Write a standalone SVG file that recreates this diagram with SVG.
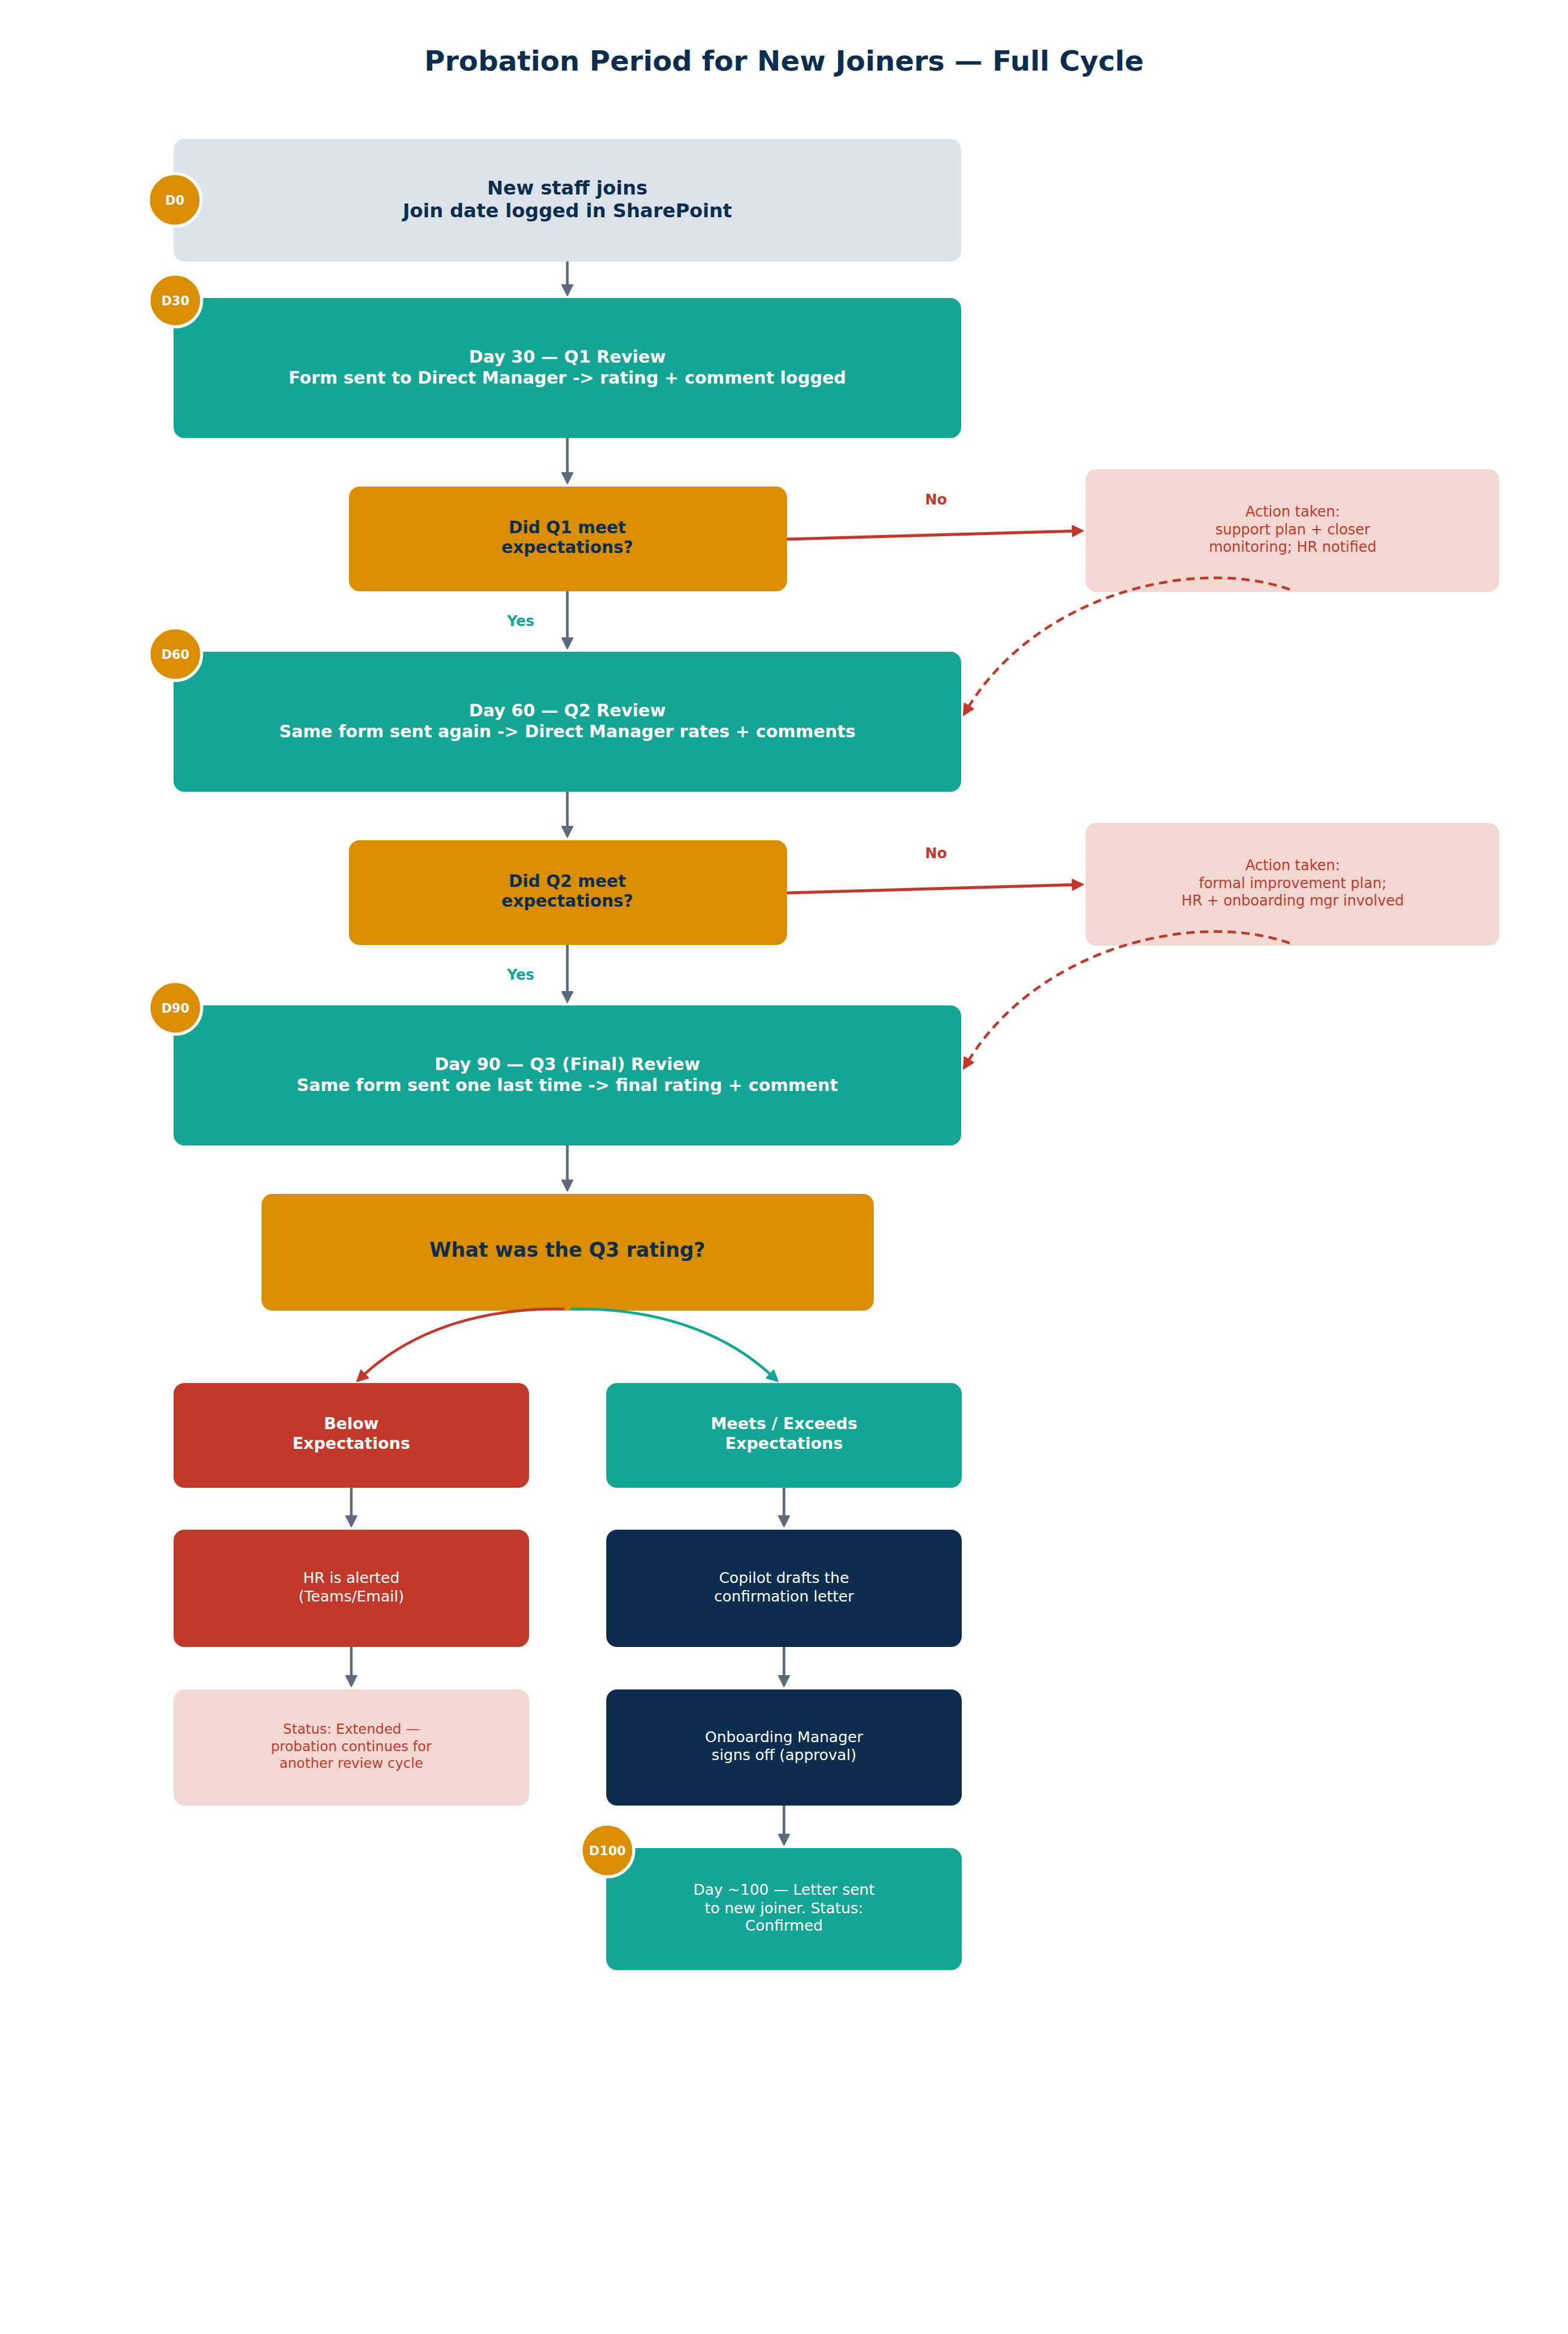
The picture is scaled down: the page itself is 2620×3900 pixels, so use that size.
<svg xmlns="http://www.w3.org/2000/svg" width="2620" height="3900" viewBox="0 0 2620 3900">
<style>
text{font-family:"DejaVu Sans","Liberation Sans",sans-serif;text-anchor:middle}
.title{font-size:47px;font-weight:bold;fill:#0D2D4E}
.b32{font-size:32px;font-weight:bold}
.b28{font-size:28px;font-weight:bold}
.b286{font-size:28.6px;font-weight:bold}
.b27{font-size:27px;font-weight:bold}
.b33{font-size:33px;font-weight:bold}
.n25{font-size:25px}
.n24{font-size:24px}
.n23{font-size:23px}
.navy{fill:#0D2D4E}
.white{fill:#FFFFFF}
.red{fill:#C0392B}
.tealt{fill:#14A594}
.lbl{font-size:24px;font-weight:bold}
.badge circle{fill:#D98E04;stroke:#FFFFFF;stroke-width:5}
.badge text{font-size:21px;font-weight:bold;fill:#FFFFFF}
.gray{fill:#DDE3EA}
.teal{fill:#14A594}
.orange{fill:#D98E04}
.pink{fill:#F2D7D3}
.redbox{fill:#C0392B}
.navybox{fill:#0D2D4E}
.g{stroke:#5B6B7B;stroke-width:4.5;fill:none;marker-end:url(#ag)}
.r{stroke:#C0392B;stroke-width:5;fill:none;marker-end:url(#ar)}
.rd{stroke:#C0392B;stroke-width:4.5;fill:none;stroke-dasharray:14 9;marker-end:url(#ar)}
.rc{stroke:#C0392B;stroke-width:4.5;fill:none;marker-end:url(#ar)}
.tc{stroke:#14A594;stroke-width:4.5;fill:none;marker-end:url(#at)}
</style>
<defs>
<marker id="ag" markerUnits="userSpaceOnUse" markerWidth="24" markerHeight="24" viewBox="0 0 24 24" refX="9" refY="12" orient="auto"><path d="M3,3 L21,12 L3,21 z" fill="#5B6B7B" stroke="#5B6B7B" stroke-width="2" stroke-linejoin="round"/></marker>
<marker id="ar" markerUnits="userSpaceOnUse" markerWidth="24" markerHeight="24" viewBox="0 0 24 24" refX="9" refY="12" orient="auto"><path d="M3,3 L21,12 L3,21 z" fill="#C0392B" stroke="#C0392B" stroke-width="2" stroke-linejoin="round" stroke-dasharray="none"/></marker>
<marker id="at" markerUnits="userSpaceOnUse" markerWidth="24" markerHeight="24" viewBox="0 0 24 24" refX="9" refY="12" orient="auto"><path d="M3,3 L21,12 L3,21 z" fill="#14A594" stroke="#14A594" stroke-width="2" stroke-linejoin="round"/></marker>
</defs>
<rect width="2620" height="3900" fill="#FFFFFF"/>
<text class="title" x="1310" y="118">Probation Period for New Joiners — Full Cycle</text>

<g id="d0">
<rect class="gray" x="290" y="232" width="1316" height="205" rx="18"/>
<text class="b32 navy" x="948" y="325">New staff joins</text>
<text class="b32 navy" x="948" y="363">Join date logged in SharePoint</text>
<g class="badge"><circle cx="292" cy="334" r="44"/><text x="292" y="341.5">D0</text></g>
</g>

<g id="d30">
<rect class="teal" x="290" y="498" width="1316" height="234" rx="18"/>
<text class="b286 white" x="948" y="606">Day 30 — Q1 Review</text>
<text class="b286 white" x="948" y="641">Form sent to Direct Manager -&gt; rating + comment logged</text>
<g class="badge"><circle cx="293" cy="502" r="44"/><text x="293" y="509.5">D30</text></g>
</g>

<g id="q1">
<rect class="orange" x="583" y="813" width="732" height="175" rx="18"/>
<text class="b28 navy" x="948" y="891">Did Q1 meet</text>
<text class="b28 navy" x="948" y="924">expectations?</text>
</g>

<g id="a1">
<rect class="pink" x="1814" y="784" width="691" height="205" rx="18"/>
<text class="n24 red" x="2160" y="863">Action taken:</text>
<text class="n24 red" x="2160" y="893">support plan + closer</text>
<text class="n24 red" x="2160" y="922">monitoring; HR notified</text>
</g>

<g id="d60">
<rect class="teal" x="290" y="1089" width="1316" height="234" rx="18"/>
<text class="b286 white" x="948" y="1197">Day 60 — Q2 Review</text>
<text class="b286 white" x="948" y="1232">Same form sent again -&gt; Direct Manager rates + comments</text>
<g class="badge"><circle cx="293" cy="1093" r="44"/><text x="293" y="1100.5">D60</text></g>
</g>

<g id="q2">
<rect class="orange" x="583" y="1404" width="732" height="175" rx="18"/>
<text class="b28 navy" x="948" y="1482">Did Q2 meet</text>
<text class="b28 navy" x="948" y="1515">expectations?</text>
</g>

<g id="a2">
<rect class="pink" x="1814" y="1375" width="691" height="205" rx="18"/>
<text class="n24 red" x="2160" y="1454">Action taken:</text>
<text class="n24 red" x="2160" y="1484">formal improvement plan;</text>
<text class="n24 red" x="2160" y="1513">HR + onboarding mgr involved</text>
</g>

<g id="d90">
<rect class="teal" x="290" y="1680" width="1316" height="234" rx="18"/>
<text class="b286 white" x="948" y="1788">Day 90 — Q3 (Final) Review</text>
<text class="b286 white" x="948" y="1823">Same form sent one last time -&gt; final rating + comment</text>
<g class="badge"><circle cx="293" cy="1684" r="44"/><text x="293" y="1691.5">D90</text></g>
</g>

<g id="q3">
<rect class="orange" x="437" y="1995" width="1023" height="195" rx="18"/>
<text class="b33 navy" x="948" y="2100">What was the Q3 rating?</text>
</g>

<g id="below">
<rect class="redbox" x="290" y="2311" width="594" height="175" rx="18"/>
<text class="b27 white" x="587" y="2388">Below</text>
<text class="b27 white" x="587" y="2421">Expectations</text>
</g>

<g id="meets">
<rect class="teal" x="1013" y="2311" width="594" height="175" rx="18"/>
<text class="b27 white" x="1310" y="2388">Meets / Exceeds</text>
<text class="b27 white" x="1310" y="2421">Expectations</text>
</g>

<g id="hr">
<rect class="redbox" x="290" y="2556" width="594" height="196" rx="18"/>
<text class="n25 white" x="587" y="2645">HR is alerted</text>
<text class="n25 white" x="587" y="2676">(Teams/Email)</text>
</g>

<g id="copilot">
<rect class="navybox" x="1013" y="2556" width="594" height="196" rx="18"/>
<text class="n25 white" x="1310" y="2645">Copilot drafts the</text>
<text class="n25 white" x="1310" y="2676">confirmation letter</text>
</g>

<g id="status">
<rect class="pink" x="290" y="2823" width="594" height="194" rx="18"/>
<text class="n23 red" x="587" y="2897">Status: Extended —</text>
<text class="n23 red" x="587" y="2926">probation continues for</text>
<text class="n23 red" x="587" y="2954">another review cycle</text>
</g>

<g id="onboarding">
<rect class="navybox" x="1013" y="2823" width="594" height="194" rx="18"/>
<text class="n25 white" x="1310" y="2911">Onboarding Manager</text>
<text class="n25 white" x="1310" y="2941">signs off (approval)</text>
</g>

<g id="d100">
<rect class="teal" x="1013" y="3088" width="594" height="204" rx="18"/>
<text class="n25 white" x="1310" y="3166">Day ~100 — Letter sent</text>
<text class="n25 white" x="1310" y="3197">to new joiner. Status:</text>
<text class="n25 white" x="1310" y="3226">Confirmed</text>
<g class="badge"><circle cx="1015" cy="3092" r="44"/><text x="1015" y="3099.5">D100</text></g>
</g>

<g id="connectors">
<line class="g" x1="948" y1="437" x2="948" y2="482"/>
<line class="g" x1="948" y1="732" x2="948" y2="796"/>
<line class="g" x1="948" y1="988" x2="948" y2="1072"/>
<line class="g" x1="948" y1="1323" x2="948" y2="1387"/>
<line class="g" x1="948" y1="1579" x2="948" y2="1663"/>
<line class="g" x1="948" y1="1914" x2="948" y2="1978"/>
<line class="g" x1="587" y1="2486" x2="587" y2="2539"/>
<line class="g" x1="587" y1="2752" x2="587" y2="2806"/>
<line class="g" x1="1310" y1="2486" x2="1310" y2="2539"/>
<line class="g" x1="1310" y1="2752" x2="1310" y2="2806"/>
<line class="g" x1="1310" y1="3017" x2="1310" y2="3071"/>
<line class="r" x1="1315" y1="901" x2="1798" y2="887.3"/>
<line class="r" x1="1315" y1="1492" x2="1798" y2="1478.3"/>
<path class="rd" d="M2155 985 C2000 930 1734 990 1616 1185"/>
<path class="rd" d="M2155 1576 C2000 1521 1734 1581 1616 1776"/>
<path class="rc" d="M943 2187 C800 2185 685 2225 605 2300"/>
<path class="tc" d="M953 2187 C1096 2185 1211 2225 1291 2300"/>
<text class="lbl red" x="1564" y="843">No</text>
<text class="lbl red" x="1564" y="1434">No</text>
<text class="lbl tealt" x="870" y="1046">Yes</text>
<text class="lbl tealt" x="870" y="1637">Yes</text>
</g>
</svg>
